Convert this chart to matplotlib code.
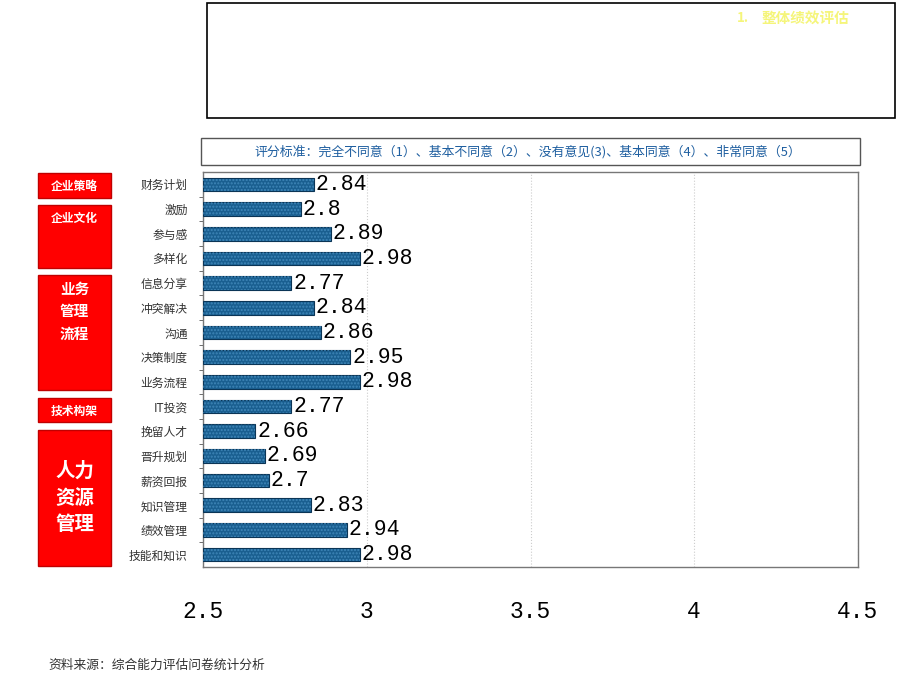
import matplotlib
matplotlib.use("Agg")
import matplotlib.pyplot as plt
from matplotlib.patches import Rectangle

plt.rcParams['font.family'] = ['Noto Sans CJK SC', 'DejaVu Sans']

items = ['财务计划', '激励', '参与感', '多样化', '信息分享', '冲突解决', '沟通',
         '决策制度', '业务流程', 'IT投资', '挽留人才', '晋升规划', '薪资回报',
         '知识管理', '绩效管理', '技能和知识']
scores = [2.84, 2.8, 2.89, 2.98, 2.77, 2.84, 2.86, 2.95, 2.98, 2.77, 2.66,
          2.69, 2.7, 2.83, 2.94, 2.98]
groups = ['企业策略', '企业文化', '业务\n管理\n流程', '技术构架', '人力\n资源\n管理']
xticks = [2.5, 3, 3.5, 4, 4.5]

W, H = 920, 690
fig = plt.figure(figsize=(9.2, 6.9), dpi=100)

def box(x0, y0, x1, y1, **kw):
    # pixel coords (top-left origin) -> figure fraction
    r = Rectangle((x0 / W, 1 - y1 / H), (x1 - x0) / W, (y1 - y0) / H,
                  transform=fig.transFigure, **kw)
    fig.add_artist(r)
    return r

# top empty title box
box(207, 3, 895, 118, facecolor='white', edgecolor='black', linewidth=1.2)
fig.text(737 / W, 1 - 18 / H, '1.', color='#f5f57a', fontsize=9.5,
         style='italic', fontweight='bold', ha='left', va='center')
fig.text(762 / W, 1 - 18 / H, '整体绩效评估', color='#f5f57a', fontsize=10.5,
         style='italic', fontweight='bold', ha='left', va='center')

# rating scale box
box(201, 138, 860, 165, facecolor='white', edgecolor='#555555', linewidth=1)
fig.text(528 / W, 1 - 152 / H,
         '评分标准：完全不同意（1）、基本不同意（2）、没有意见(3)、基本同意（4）、非常同意（5）',
         color='#1f5fa0', fontsize=9.3, ha='center', va='center')

ax = fig.add_axes([203 / W, 1 - 567 / H, (858 - 203) / W, (567 - 172) / H])
n = len(items)
ypos = list(range(n))
ax.barh(ypos, [s - 2.5 for s in scores], left=2.5, height=0.55,
        color='#1a5f90', edgecolor='#0b3556', linewidth=0.8, zorder=3)
ax.barh(ypos, [s - 2.5 for s in scores], left=2.5, height=0.55,
        fill=False, hatch='.....', edgecolor='#3f86b8', linewidth=0, zorder=4)
for y, s in zip(ypos, scores):
    ax.text(s + 0.005, y, f'{s:g}', fontsize=15.5, family='Liberation Mono',
            va='center', ha='left', color='black', zorder=5)

ax.set_xlim(2.5, 4.5)
ax.set_ylim(n - 0.5, -0.5)
ax.set_xticks(xticks)
ax.set_xticklabels([f'{t:g}' for t in xticks], family='Liberation Mono', fontsize=16.5)
ax.tick_params(axis='x', length=0, pad=24)
ax.set_yticks(ypos)
ax.set_yticklabels(items, fontsize=8.5, color='#333333')
ax.set_yticks([k + 0.5 for k in range(n - 1)], minor=True)
ax.tick_params(axis='y', which='major', length=0, pad=11)
ax.tick_params(axis='y', which='minor', length=3, color='#555555')
ax.grid(axis='x', linestyle=':', color='#cccccc', linewidth=0.8, zorder=0)
for sp in ax.spines.values():
    sp.set_color('#777777')
    sp.set_linewidth(1)

# red group boxes on the left
group_px = [(173, 198), (205, 268), (275, 390), (398, 422), (430, 566)]
for name, (y0, y1) in zip(groups, group_px):
    box(38, y0, 111, y1, facecolor='#ff0000', edgecolor='#c00000', linewidth=1)
    big = name.startswith('人力')
    if big:
        ty, fs, ls = (y0 + y1) / 2, 14, 1.5
    elif '\n' in name:
        ty, fs, ls = y0 + 36, 10.5, 1.5
    else:
        ty, fs, ls = y0 + 13.5, 8.5, 1.2
    fig.text(74.5 / W, 1 - ty / H, name, color='white', fontweight='bold',
             fontsize=fs, ha='center', va='center', linespacing=ls)

fig.text(48 / W, 1 - 665 / H, '资料来源：综合能力评估问卷统计分析', fontsize=9.2,
         color='#333333', ha='left', va='center')

fig.savefig('out.png', dpi=100)
